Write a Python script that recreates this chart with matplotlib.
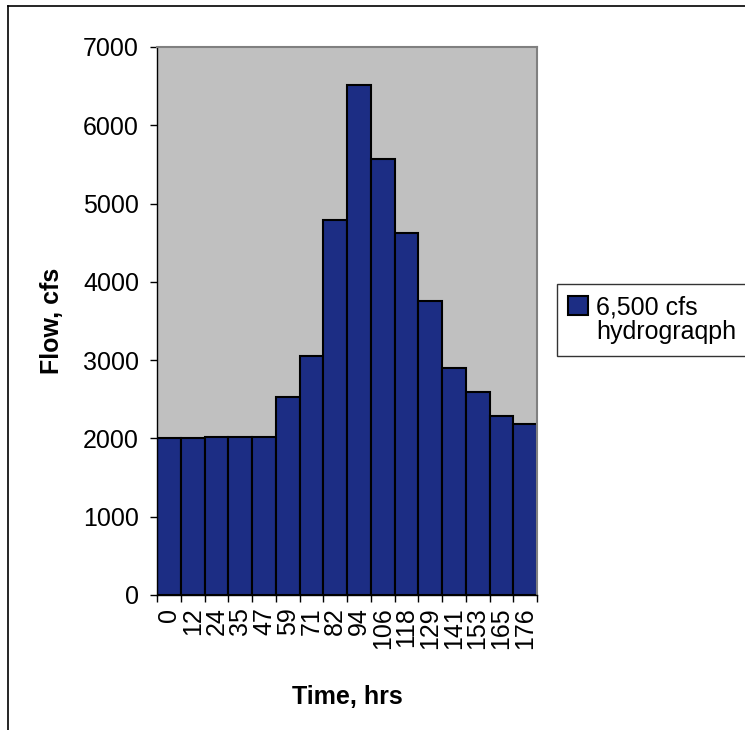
import matplotlib
matplotlib.use("Agg")
import matplotlib.pyplot as plt
from matplotlib.lines import Line2D
from matplotlib.patches import Rectangle

# hydrograph data
times = ["0", "12", "24", "35", "47", "59", "71", "82",
         "94", "106", "118", "129", "141", "153", "165", "176"]
flows = [2000, 2000, 2020, 2020, 2020, 2530, 3055, 4790,
         6520, 5565, 4620, 3760, 2900, 2590, 2285, 2185]
y_ticks = [0, 1000, 2000, 3000, 4000, 5000, 6000, 7000]
series_name = ["6,500 cfs", "hydrograqph"]

plt.rcParams['font.family'] = ['Liberation Sans', 'DejaVu Sans']

fig = plt.figure(figsize=(7.45, 7.3), dpi=100)
ax = fig.add_axes([157 / 745, 1 - 595 / 730, 380 / 745, 548 / 730])

pos = list(range(len(times)))
bars = ax.bar(pos, flows, width=1.0, color='#1c2d84', edgecolor='black',
              linewidth=1.5, zorder=2)

ax.set_facecolor('#c0c0c0')
ax.set_xlim(-0.5, len(times) - 0.5)
ax.set_ylim(0, 7000)
ax.set_yticks(y_ticks)
ax.tick_params(axis='y', direction='out', length=5, width=1, pad=8, labelsize=18)

# ticks on the category boundaries, labels in the middle
ax.set_xticks([p - 0.5 for p in pos] + [len(times) - 0.5])
ax.set_xticklabels([])
ax.set_xticks(pos, minor=True)
ax.set_xticklabels(times, minor=True, rotation=90, fontsize=18)
ax.tick_params(axis='x', which='major', direction='out', length=5, width=1)
ax.tick_params(axis='x', which='minor', length=0, pad=9)

for side in ['top', 'right']:
    ax.spines[side].set_color('#808080')
    ax.spines[side].set_linewidth(1.5)
for side in ['left', 'bottom']:
    ax.spines[side].set_color('black')
    ax.spines[side].set_linewidth(1)

ax.set_ylabel('Flow, cfs', fontsize=18, fontweight='bold', labelpad=14)
ax.set_xlabel('Time, hrs', fontsize=18, fontweight='bold', labelpad=26)

# series name wraps onto two lines, marker sits beside the first one
blank = Rectangle((0, 0), 1, 1, visible=False)
leg = fig.legend([bars, blank], series_name, loc='upper left',
                 bbox_to_anchor=(557 / 745, 1 - 284 / 730),
                 fontsize=18, frameon=True, fancybox=False, edgecolor='black',
                 handlelength=0.8, handleheight=0.8, handletextpad=0.3,
                 labelspacing=0.05, borderpad=0.45, borderaxespad=0)
leg.get_frame().set_linewidth(1)

# outer chart-area border (only top and left edges show)
fig.add_artist(Line2D([8 / 745, 1.0], [1 - 6 / 730, 1 - 6 / 730], color='black', lw=1.2))
fig.add_artist(Line2D([8 / 745, 8 / 745], [0.0, 1 - 6 / 730], color='black', lw=1.2))

fig.savefig('out.png', dpi=100, facecolor='white')
